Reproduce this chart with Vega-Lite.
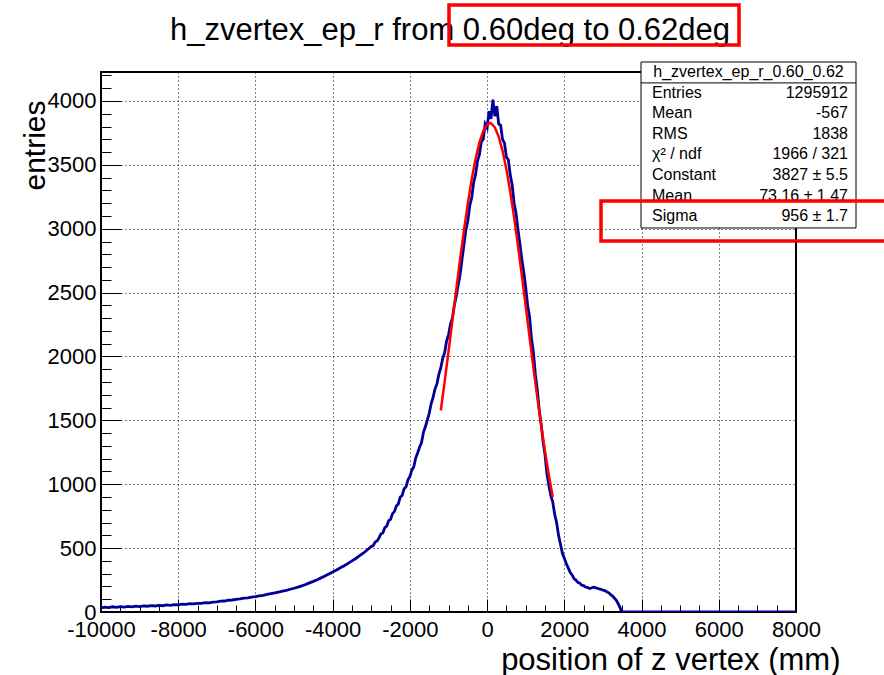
{
  "$schema": "https://vega.github.io/schema/vega-lite/v6.json",
  "width": 695,
  "height": 540,
  "autosize": {"type": "none"},
  "padding": {"left": 101, "top": 72, "right": 88, "bottom": 63},
  "background": "white",
  "config": {"view": {"stroke": "black", "strokeWidth": 2}, "font": "Liberation Sans"},
  "datasets": {
    "stats": [
      {"line": 1, "label": "Entries", "value": "1295912"},
      {"line": 2, "label": "Mean", "value": "-567"},
      {"line": 3, "label": "RMS", "value": "1838"},
      {"line": 4, "label": "χ² / ndf", "value": "1966 / 321"},
      {"line": 5, "label": "Constant", "value": "3827 ± 5.5"},
      {"line": 6, "label": "Mean", "value": "73.16 ± 1.47"},
      {"line": 7, "label": "Sigma", "value": "956 ± 1.7"}
    ]
  },
  "resolve": {"scale": {"y": "independent"}},
  "layer": [
    {
      "resolve": {"axis": {"x": "independent", "y": "independent"}},
      "layer": [
        {
          "data": {"values": [
            {"z": -10000, "n": 32}, {"z": -9900, "n": 38}, {"z": -9800, "n": 34}, {"z": -9700, "n": 41}, {"z": -9600, "n": 36},
            {"z": -9500, "n": 42}, {"z": -9400, "n": 38}, {"z": -9300, "n": 44}, {"z": -9200, "n": 40}, {"z": -9100, "n": 46},
            {"z": -9000, "n": 42}, {"z": -8900, "n": 48}, {"z": -8800, "n": 45}, {"z": -8700, "n": 50}, {"z": -8600, "n": 47},
            {"z": -8500, "n": 52}, {"z": -8400, "n": 49}, {"z": -8300, "n": 55}, {"z": -8200, "n": 52}, {"z": -8100, "n": 58},
            {"z": -8000, "n": 56}, {"z": -7900, "n": 61}, {"z": -7800, "n": 59}, {"z": -7700, "n": 65}, {"z": -7600, "n": 63},
            {"z": -7500, "n": 68}, {"z": -7400, "n": 67}, {"z": -7300, "n": 73}, {"z": -7200, "n": 72}, {"z": -7100, "n": 78},
            {"z": -7000, "n": 79}, {"z": -6900, "n": 85}, {"z": -6800, "n": 86}, {"z": -6700, "n": 92}, {"z": -6600, "n": 94},
            {"z": -6500, "n": 99}, {"z": -6400, "n": 103}, {"z": -6300, "n": 108}, {"z": -6200, "n": 111}, {"z": -6100, "n": 117},
            {"z": -6000, "n": 121}, {"z": -5900, "n": 126}, {"z": -5800, "n": 131}, {"z": -5700, "n": 137}, {"z": -5600, "n": 143},
            {"z": -5500, "n": 149}, {"z": -5400, "n": 156}, {"z": -5300, "n": 163}, {"z": -5200, "n": 170}, {"z": -5100, "n": 178},
            {"z": -5000, "n": 186}, {"z": -4900, "n": 195}, {"z": -4800, "n": 205}, {"z": -4700, "n": 215}, {"z": -4600, "n": 228},
            {"z": -4500, "n": 240}, {"z": -4400, "n": 253}, {"z": -4300, "n": 267}, {"z": -4200, "n": 281}, {"z": -4100, "n": 297},
            {"z": -4000, "n": 313}, {"z": -3900, "n": 329}, {"z": -3800, "n": 346}, {"z": -3700, "n": 362}, {"z": -3600, "n": 381},
            {"z": -3500, "n": 400}, {"z": -3400, "n": 419}, {"z": -3300, "n": 441}, {"z": -3200, "n": 462}, {"z": -3100, "n": 487},
            {"z": -3000, "n": 513}, {"z": -2950, "n": 520}, {"z": -2900, "n": 548}, {"z": -2850, "n": 556}, {"z": -2800, "n": 580},
            {"z": -2750, "n": 612}, {"z": -2700, "n": 618}, {"z": -2650, "n": 660}, {"z": -2600, "n": 672}, {"z": -2550, "n": 715},
            {"z": -2500, "n": 725}, {"z": -2450, "n": 770}, {"z": -2400, "n": 786}, {"z": -2350, "n": 830}, {"z": -2300, "n": 846},
            {"z": -2250, "n": 900}, {"z": -2200, "n": 912}, {"z": -2150, "n": 965}, {"z": -2100, "n": 980}, {"z": -2050, "n": 1035},
            {"z": -2000, "n": 1060}, {"z": -1950, "n": 1110}, {"z": -1900, "n": 1135}, {"z": -1850, "n": 1205}, {"z": -1800, "n": 1245},
            {"z": -1750, "n": 1290}, {"z": -1700, "n": 1325}, {"z": -1650, "n": 1405}, {"z": -1600, "n": 1450}, {"z": -1550, "n": 1500},
            {"z": -1500, "n": 1555}, {"z": -1450, "n": 1630}, {"z": -1400, "n": 1680}, {"z": -1350, "n": 1745}, {"z": -1300, "n": 1785},
            {"z": -1250, "n": 1860}, {"z": -1200, "n": 1910}, {"z": -1150, "n": 1985}, {"z": -1100, "n": 2030}, {"z": -1050, "n": 2120},
            {"z": -1000, "n": 2170}, {"z": -950, "n": 2250}, {"z": -900, "n": 2300}, {"z": -850, "n": 2400}, {"z": -800, "n": 2470},
            {"z": -750, "n": 2560}, {"z": -700, "n": 2640}, {"z": -650, "n": 2760},
            {"z": -600, "n": 2875}, {"z": -550, "n": 2990}, {"z": -500, "n": 3060}, {"z": -450, "n": 3180}, {"z": -400, "n": 3240},
            {"z": -350, "n": 3360}, {"z": -300, "n": 3420}, {"z": -250, "n": 3530}, {"z": -200, "n": 3580}, {"z": -150, "n": 3680},
            {"z": -100, "n": 3700}, {"z": -50, "n": 3820}, {"z": 0, "n": 3790}, {"z": 50, "n": 3920}, {"z": 100, "n": 3860},
            {"z": 150, "n": 4010}, {"z": 200, "n": 3880}, {"z": 250, "n": 3960}, {"z": 300, "n": 3820}, {"z": 350, "n": 3810},
            {"z": 400, "n": 3700}, {"z": 450, "n": 3670}, {"z": 500, "n": 3560}, {"z": 550, "n": 3540}, {"z": 600, "n": 3420},
            {"z": 650, "n": 3340}, {"z": 700, "n": 3200}, {"z": 750, "n": 3120}, {"z": 800, "n": 2990}, {"z": 850, "n": 2880},
            {"z": 900, "n": 2760}, {"z": 950, "n": 2660}, {"z": 1000, "n": 2540}, {"z": 1050, "n": 2400}, {"z": 1100, "n": 2310},
            {"z": 1150, "n": 2140}, {"z": 1200, "n": 2030}, {"z": 1250, "n": 1860}, {"z": 1300, "n": 1740}, {"z": 1350, "n": 1580},
            {"z": 1400, "n": 1470}, {"z": 1450, "n": 1330}, {"z": 1500, "n": 1230}, {"z": 1550, "n": 1080}, {"z": 1600, "n": 990},
            {"z": 1650, "n": 910}, {"z": 1700, "n": 860}, {"z": 1750, "n": 765}, {"z": 1800, "n": 700}, {"z": 1850, "n": 600},
            {"z": 1900, "n": 530}, {"z": 1950, "n": 460}, {"z": 2000, "n": 420}, {"z": 2050, "n": 380}, {"z": 2100, "n": 345},
            {"z": 2150, "n": 310}, {"z": 2200, "n": 290}, {"z": 2250, "n": 262}, {"z": 2300, "n": 250}, {"z": 2350, "n": 232},
            {"z": 2400, "n": 226}, {"z": 2450, "n": 210}, {"z": 2500, "n": 207}, {"z": 2550, "n": 195}, {"z": 2600, "n": 193},
            {"z": 2650, "n": 184}, {"z": 2700, "n": 188}, {"z": 2750, "n": 194}, {"z": 2800, "n": 190}, {"z": 2850, "n": 186},
            {"z": 2900, "n": 180}, {"z": 2950, "n": 178}, {"z": 3000, "n": 171}, {"z": 3050, "n": 168}, {"z": 3100, "n": 158},
            {"z": 3150, "n": 150}, {"z": 3200, "n": 136}, {"z": 3250, "n": 125}, {"z": 3300, "n": 108}, {"z": 3350, "n": 90},
            {"z": 3400, "n": 62}, {"z": 3450, "n": 30}, {"z": 3480, "n": 0}, {"z": 8000, "n": 0}
          ]},
          "mark": {"type": "line", "color": "#000099", "strokeWidth": 2.8, "clip": true},
          "encoding": {
            "x": {
              "field": "z", "type": "quantitative",
              "scale": {"domain": [-10000, 8000], "nice": false, "zero": false},
              "axis": {
                "orient": "bottom",
                "values": [-10000, -8000, -6000, -4000, -2000, 0, 2000, 4000, 6000, 8000],
                "labelExpr": "toString(datum.value)", "labelFontSize": 22, "labelColor": "black", "labelPadding": 20,
                "labelFlush": false, "labelOverlap": false,
                "ticks": true, "tickSize": -13, "tickColor": "black", "tickWidth": 1,
                "domain": false, "grid": true, "gridColor": "black", "gridDash": [1, 3], "gridWidth": 1, "gridOpacity": 1,
                "title": "position of z vertex (mm)", "titleFontSize": 31, "titleFontWeight": "normal", "titleColor": "black",
                "titleAlign": "right", "titleX": 739, "titleY": 57, "titleBaseline": "alphabetic"
              }
            },
            "y": {
              "field": "n", "type": "quantitative",
              "scale": {"domain": [0, 4227], "nice": false},
              "axis": {
                "orient": "left",
                "values": [0, 500, 1000, 1500, 2000, 2500, 3000, 3500, 4000],
                "labelExpr": "toString(datum.value)", "labelFontSize": 22, "labelColor": "black", "labelPadding": 25,
                "labelFlush": false, "labelOverlap": false,
                "ticks": true, "tickSize": -20, "tickColor": "black", "tickWidth": 1,
                "domain": false, "grid": true, "gridColor": "black", "gridDash": [1, 3], "gridWidth": 1, "gridOpacity": 1,
                "title": "entries", "titleFontSize": 30, "titleFontWeight": "normal", "titleColor": "black",
                "titleAngle": -90, "titleAlign": "right", "titleX": -57, "titleY": 28, "titleBaseline": "alphabetic"
              }
            }
          }
        },
        {
          "data": {"values": [
            {"z": -1200, "f": 1577}, {"z": -1100, "f": 1802}, {"z": -1000, "f": 2038}, {"z": -900, "f": 2280}, {"z": -800, "f": 2522},
            {"z": -700, "f": 2760}, {"z": -600, "f": 2987}, {"z": -500, "f": 3197}, {"z": -400, "f": 3386}, {"z": -300, "f": 3546},
            {"z": -200, "f": 3674}, {"z": -100, "f": 3765}, {"z": 0, "f": 3816}, {"z": 73, "f": 3827}, {"z": 100, "f": 3826},
            {"z": 200, "f": 3793}, {"z": 300, "f": 3721}, {"z": 400, "f": 3610}, {"z": 500, "f": 3464}, {"z": 600, "f": 3288},
            {"z": 700, "f": 3087}, {"z": 800, "f": 2866}, {"z": 900, "f": 2633}, {"z": 1000, "f": 2392}, {"z": 1100, "f": 2149},
            {"z": 1200, "f": 1911}, {"z": 1300, "f": 1680}, {"z": 1400, "f": 1461}, {"z": 1500, "f": 1257}, {"z": 1600, "f": 1069},
            {"z": 1700, "f": 900}
          ]},
          "mark": {"type": "line", "color": "#ff0000", "strokeWidth": 2.5},
          "encoding": {
            "x": {
              "field": "z", "type": "quantitative",
              "scale": {"domain": [-10000, 8000], "nice": false, "zero": false},
              "axis": {
                "orient": "bottom",
                "values": [-10000, -9500, -9000, -8500, -8000, -7500, -7000, -6500, -6000, -5500, -5000, -4500, -4000, -3500, -3000, -2500, -2000, -1500, -1000, -500, 0, 500, 1000, 1500, 2000, 2500, 3000, 3500, 4000, 4500, 5000, 5500, 6000, 6500, 7000, 7500, 8000],
                "labels": false, "grid": false, "domain": false,
                "ticks": true, "tickSize": -7, "tickColor": "black", "tickWidth": 1, "title": null
              }
            },
            "y": {
              "field": "f", "type": "quantitative",
              "axis": {
                "orient": "left",
                "values": [0, 100, 200, 300, 400, 500, 600, 700, 800, 900, 1000, 1100, 1200, 1300, 1400, 1500, 1600, 1700, 1800, 1900, 2000, 2100, 2200, 2300, 2400, 2500, 2600, 2700, 2800, 2900, 3000, 3100, 3200, 3300, 3400, 3500, 3600, 3700, 3800, 3900, 4000, 4100, 4200],
                "labels": false, "grid": false, "domain": false,
                "ticks": true, "tickSize": -10, "tickColor": "black", "tickWidth": 1, "title": null
              }
            }
          }
        }
      ]
    },
    {
      "layer": [
        {
          "data": {"values": [{}]},
          "mark": {"type": "rect", "fill": "white", "stroke": "black", "strokeWidth": 1},
          "encoding": {
            "x": {"datum": 3986, "type": "quantitative", "scale": {"domain": [-10000, 8000], "nice": false, "zero": false}, "axis": null},
            "x2": {"datum": 9554},
            "y": {"datum": -0.485, "type": "quantitative", "scale": {"domain": [0, 26.21], "reverse": true, "nice": false, "zero": false}, "axis": null},
            "y2": {"datum": 7.57}
          }
        },
        {
          "data": {"values": [{}]},
          "mark": {"type": "rule", "color": "black", "strokeWidth": 1},
          "encoding": {
            "x": {"datum": 3986, "type": "quantitative", "axis": null},
            "x2": {"datum": 9554},
            "y": {"datum": 0.53, "type": "quantitative", "axis": null}
          }
        },
        {
          "data": {"values": [{"t": "h_zvertex_ep_r_0.60_0.62"}]},
          "mark": {"type": "text", "align": "center", "baseline": "middle", "fontSize": 16, "color": "black"},
          "encoding": {
            "x": {"datum": 6770, "type": "quantitative", "axis": null},
            "y": {"datum": 0, "type": "quantitative", "axis": null},
            "text": {"field": "t"}
          }
        },
        {
          "data": {"name": "stats"},
          "mark": {"type": "text", "align": "left", "baseline": "middle", "fontSize": 16, "color": "black"},
          "encoding": {
            "x": {"datum": 4271, "type": "quantitative", "axis": null},
            "y": {"field": "line", "type": "quantitative", "axis": null},
            "text": {"field": "label"}
          }
        },
        {
          "data": {"name": "stats"},
          "mark": {"type": "text", "align": "right", "baseline": "middle", "fontSize": 16, "color": "black"},
          "encoding": {
            "x": {"datum": 9347, "type": "quantitative", "axis": null},
            "y": {"field": "line", "type": "quantitative", "axis": null},
            "text": {"field": "value"}
          }
        },
        {
          "data": {"values": [{"t": "h_zvertex_ep_r from 0.60deg to 0.62deg"}]},
          "mark": {"type": "text", "align": "center", "baseline": "alphabetic", "fontSize": 31, "color": "black"},
          "encoding": {
            "x": {"datum": -961, "type": "quantitative", "axis": null},
            "y": {"datum": -1.553, "type": "quantitative", "axis": null},
            "text": {"field": "t"}
          }
        },
        {
          "data": {"values": [{}]},
          "mark": {"type": "rect", "fillOpacity": 0, "fill": "white", "stroke": "#ff0000", "strokeWidth": 3.5},
          "encoding": {
            "x": {"datum": -987, "type": "quantitative", "axis": null},
            "x2": {"datum": 6524},
            "y": {"datum": -3.25, "type": "quantitative", "axis": null},
            "y2": {"datum": -1.31}
          }
        },
        {
          "data": {"values": [{}]},
          "mark": {"type": "rect", "fillOpacity": 0, "fill": "white", "stroke": "#ff0000", "strokeWidth": 3.5},
          "encoding": {
            "x": {"datum": 2950, "type": "quantitative", "axis": null},
            "x2": {"datum": 10700},
            "y": {"datum": 6.26, "type": "quantitative", "axis": null},
            "y2": {"datum": 8.2}
          }
        }
      ]
    }
  ]
}
